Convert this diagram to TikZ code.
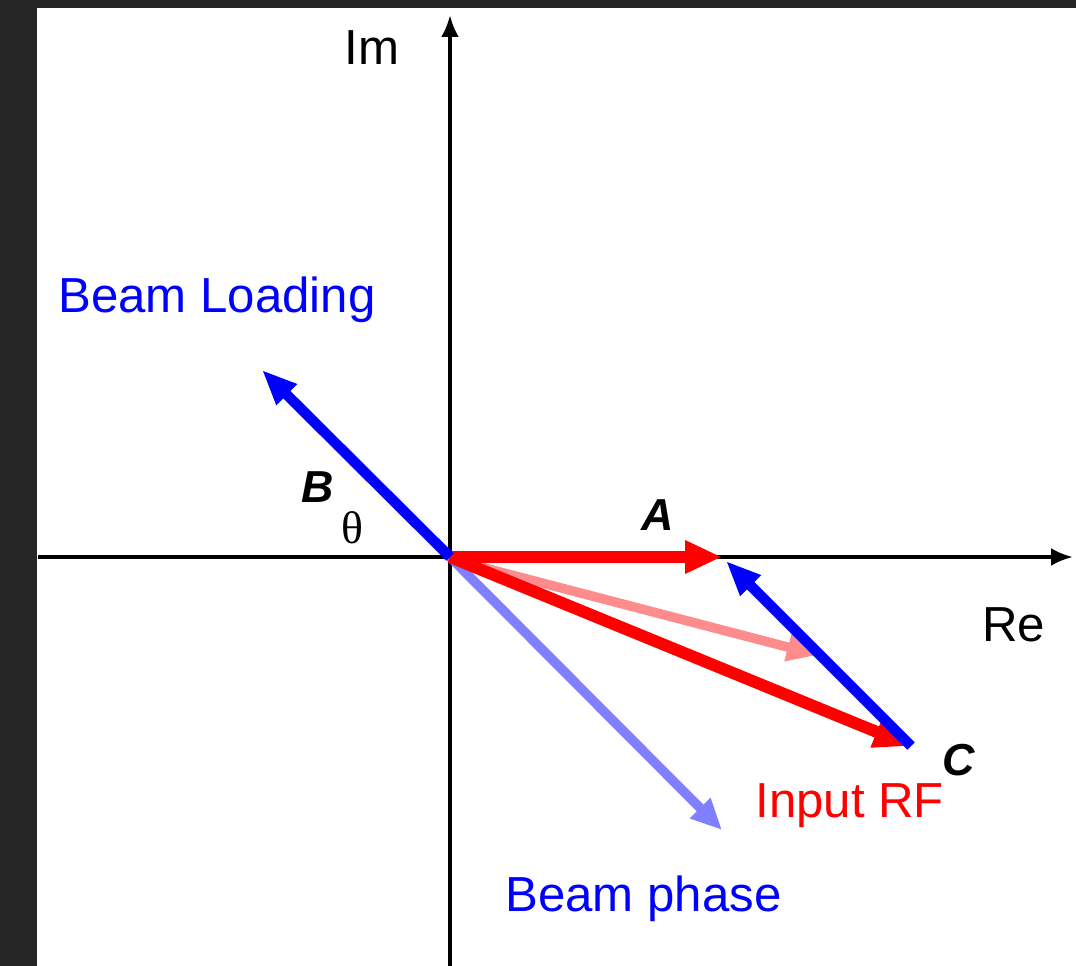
\documentclass[tikz,border=0pt]{standalone}
\usepackage{fontspec}
\setmainfont{Liberation Sans}
\newfontfamily\griega{Liberation Serif}
\definecolor{fasorRojo}{HTML}{FF0000}
\definecolor{fasorAzul}{HTML}{0000FF}
\definecolor{rojoClaro}{HTML}{FF8C8C}
\definecolor{azulClaro}{HTML}{7F7FFF}
\definecolor{marco}{HTML}{262626}
\usetikzlibrary{arrows.meta}
\tikzset{
	eje/.style={
		-{Latex[length=0.44cm,width=0.36cm]},
		line width=2.3pt,
		black
	},
	flechaRoja/.style={
		-{Triangle[length=0.74cm,width=0.62cm]},
		line width=6.8pt,
		fasorRojo
	},
	flechaAzul/.style={
		-{Triangle[length=0.7cm,width=0.54cm]},
		line width=5.9pt,
		fasorAzul
	},
	flechaTenue/.style={
		-{Triangle[length=0.62cm,width=0.54cm]},
		line width=5.4pt
	},
	texto/.style={
		anchor=base west,
		inner sep=0pt,
		font=\fontsize{28}{33}\selectfont
	},
	letra/.style={
		anchor=base west,
		inner sep=0pt,
		font=\fontsize{25.5}{30}\selectfont\bfseries\itshape
	}
}
\begin{document}
\begin{tikzpicture}[x=0.02cm,y=-0.02cm]
	\useasboundingbox (0,0) rectangle (1076,966);
	\fill[marco] (0,0) rectangle (1076,8);
	\fill[marco] (0,0) rectangle (37,966);
	% ejes
	\coordinate (O) at (450,557);
	\coordinate (reIzq) at (38,557);
	\coordinate (reDer) at (1073,557);
	\coordinate (imAbajo) at (450,966);
	\coordinate (imArriba) at (450,15);
	\draw[eje] (reIzq) -- (reDer);
	\draw[eje] (imAbajo) -- (imArriba);
	% fasores
	\coordinate (A) at (722,557);
	\coordinate (B) at (262,370);
	\coordinate (C) at (911,746);
	\coordinate (rfIni) at (458,561);
	\coordinate (rfFin) at (818,655);
	\coordinate (fase) at (722,830);
	\draw[flechaTenue, azulClaro] (O) -- (fase);
	\draw[flechaTenue, rojoClaro] (rfIni) -- (rfFin);
	\draw[flechaRoja] (O) -- (C);
	\draw[flechaAzul] (C) -- (726,561);
	\draw[flechaRoja] (O) -- (A);
	\draw[flechaAzul] (O) -- (B);
	% etiquetas
	\node[texto] (im) at (344,65) {Im};
	\node[texto] (re) at (982,641) {Re};
	\node[texto, fasorAzul] (carga) at (58,313) {Beam Loading};
	\node[texto, fasorAzul] (faseHaz) at (505,911) {Beam phase};
	\node[texto, fasorRojo] (entrada) at (755,817) {Input RF};
	\node[letra] (etA) at (641,530) {A};
	\node[letra] (etB) at (301,502) {B};
	\node[letra] (etC) at (942,775) {C};
	\node[anchor=base west, inner sep=0pt, font=\fontsize{26}{30}\selectfont\griega] (theta) at (341,543) {θ};
\end{tikzpicture}
\end{document}
